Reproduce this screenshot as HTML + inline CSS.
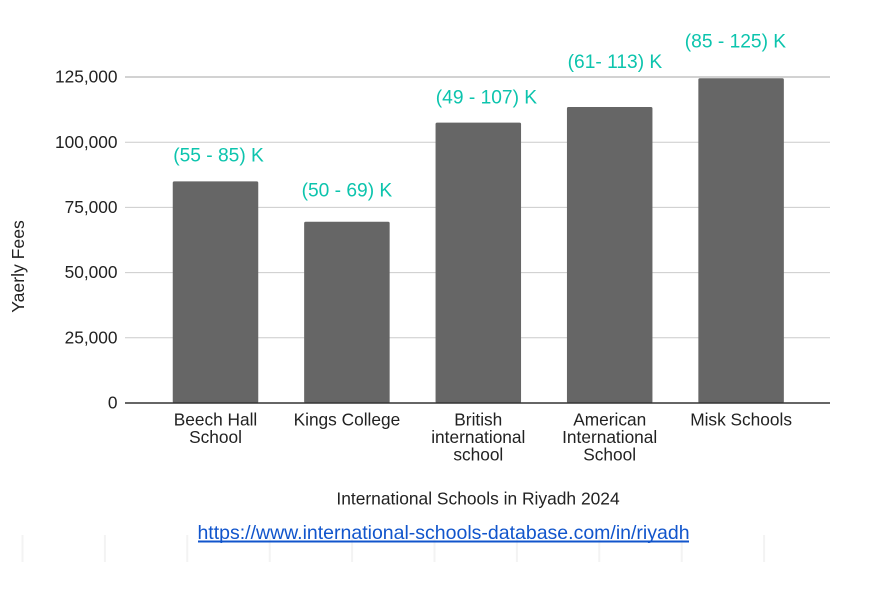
<!DOCTYPE html>
<html lang="en">
<head>
<meta charset="utf-8">
<title>International Schools in Riyadh 2024</title>
<style>
html,body{margin:0;padding:0;background:#fff;width:875px;height:608px;overflow:hidden}
svg{display:block;font-family:"Liberation Sans",Arial,sans-serif}
</style>
</head>
<body>
<svg id="chart" width="875" height="608" viewBox="0 0 875 608" xmlns="http://www.w3.org/2000/svg">
  <g id="footer-marks"></g>
  <g id="grid"></g>
  <g id="bars"></g>
  <g id="y-ticks"></g>
  <g id="x-ticks"></g>
  <g id="annotations"></g>
  <text transform="translate(24 266.5) rotate(-90)" text-anchor="middle" font-size="17.6" fill="#222">Yaerly Fees</text>
  <text x="478" y="504.5" text-anchor="middle" font-size="17.4" fill="#222">International Schools in Riyadh 2024</text>
  <text x="443.5" y="539" text-anchor="middle" font-size="19.5" fill="#1155cc" style="cursor:pointer">https://www.international-schools-database.com/in/riyadh</text>
  <rect x="198" y="540.5" width="491" height="2" fill="#1155cc"></rect>
</svg>
<script>
const categories = [["Beech Hall", "School"], ["Kings College"], ["British", "international", "school"], ["American", "International", "School"], ["Misk Schools"]];
const fees = [85000, 69500, 107500, 113500, 124500];
const rangeLabels = ["(55 - 85) K", "(50 - 69) K", "(49 - 107) K", "(61- 113) K", "(85 - 125) K"];
const labelRise = [7600, 9700, 7400, 15000, 11800];
const labelShift = [0.023, 0.0, 0.062, 0.04, -0.043];
const yTicks = [0, 25000, 50000, 75000, 100000, 125000];
const footerMarkCount = 10;

const NS = "http://www.w3.org/2000/svg";
const plot = {left: 125, right: 830, base: 403, top: 77, firstCenter: 215.5, step: 131.4, barWidth: 85.5};
const yScale = v => plot.base - (v / 125000) * (plot.base - plot.top);
const xScale = i => plot.firstCenter + i * plot.step;
function make(tag, attrs, parent, text) {
  const el = document.createElementNS(NS, tag);
  for (const k in attrs) el.setAttribute(k, attrs[k]);
  if (text !== undefined) el.textContent = text;
  parent.appendChild(el);
  return el;
}
const footer = document.getElementById("footer-marks");
for (let i = 0; i < footerMarkCount; i++) {
  const m = make("rect", {x: 21.5 + i * 82.4, y: 535, width: 2, height: 27, fill: "#f3f3f3"}, footer);
  
  
}
const grid = document.getElementById("grid");
yTicks.forEach(function (t) {
  if (t === 0) return;
  const isTop = t === yTicks[yTicks.length - 1];
  const l = make("line", {x1: plot.left, x2: plot.right, y1: yScale(t), y2: yScale(t), stroke: isTop ? "#c4c4c4" : "#cccccc", "stroke-width": isTop ? 1.6 : 1}, grid);
  
  
});
const barsG = document.getElementById("bars");
fees.forEach(function (v, i) {
  const b = make("rect", {x: xScale(i) - plot.barWidth / 2, y: yScale(v), width: plot.barWidth, height: plot.base - yScale(v), rx: 1.5, fill: "#666666"}, barsG);
  
  
});
const baseLine = make("line", {x1: plot.left, x2: plot.right, y1: plot.base, y2: plot.base, stroke: "#333333", "stroke-width": 1.4}, grid.parentNode);


const yG = document.getElementById("y-ticks");
yTicks.forEach(function (t) {
  const lab = make("text", {x: 117.5, y: yScale(t) + 5.6, "text-anchor": "end", "font-size": 17.3, fill: "#222"}, yG, t.toLocaleString("en-US"));
  
  
});
const xG = document.getElementById("x-ticks");
categories.forEach(function (lines, i) {
  lines.forEach(function (line, j) {
    const lab = make("text", {x: xScale(i), y: 425.5 + j * 17.5, "text-anchor": "middle", "font-size": 17.3, fill: "#222"}, xG, line);
    
    
  });
});
const annG = document.getElementById("annotations");
rangeLabels.forEach(function (s, i) {
  const lab = make("text", {x: xScale(i + labelShift[i]), y: yScale(fees[i] + labelRise[i]), "text-anchor": "middle", "font-size": 19.2, fill: "#0cc4ad"}, annG, s);
  
  
});
</script>
</body>
</html>
